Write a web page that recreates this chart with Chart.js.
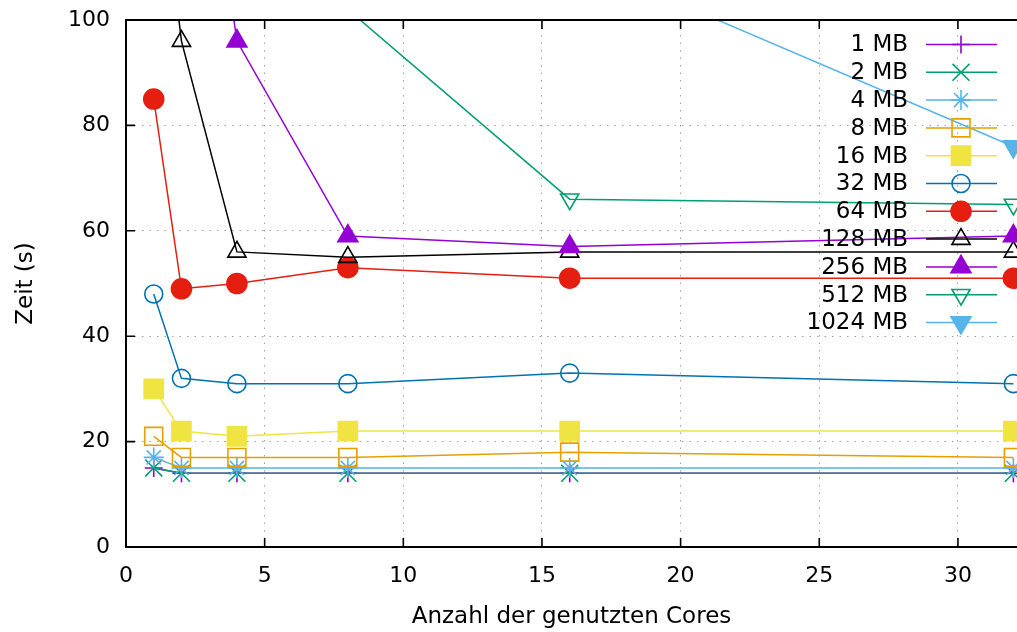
<!DOCTYPE html>
<html>
<head>
<meta charset="utf-8">
<script src="https://cdn.jsdelivr.net/npm/chart.js@4/dist/chart.umd.min.js"></script>
<style>
  body { margin: 0; background: #fff; }
  canvas { display: block; }
</style>
</head>
<body>
<canvas id="chart" width="1017" height="632"></canvas>
<script>
// data (Zeit in s vs. Anzahl Cores)
const cores = [1, 2, 4, 8, 16, 32];
const labels = ["1 MB", "2 MB", "4 MB", "8 MB", "16 MB", "32 MB", "64 MB", "128 MB", "256 MB", "512 MB", "1024 MB"];
const mb1 = [15, 14, 14, 14, 14, 14];
const mb2 = [15, 14, 14, 14, 14, 14];
const mb4 = [17, 15, 15, 15, 15, 15];
const mb8 = [21, 17, 17, 17, 18, 17];
const mb16 = [30, 22, 21, 22, 22, 22];
const mb32 = [48, 32, 31, 31, 33, 31];
const mb64 = [85, 49, 50, 53, 51, 51];
const mb128 = [140, 96, 56, 55, 56, 56];
const mb256 = [null, 170, 96, 59, 57, 59];
const mb512 = [null, null, null, 102, 66, 65];
const mb1024 = [null, null, null, null, 112, 76];
const yTicks = [0, 20, 40, 60, 80, 100];
const xTicks = [0, 5, 10, 15, 20, 25, 30];

const series = [mb1, mb2, mb4, mb8, mb16, mb32, mb64, mb128, mb256, mb512, mb1024];

// gnuplot default colours / point types
const styles = [
  { color: '#9400d3', point: 'cross', r: 9, fill: false },
  { color: '#009e73', point: 'crossRot', r: 12, fill: false },
  { color: '#56b4e9', point: 'star', r: 10, fill: false },
  { color: '#e69f00', point: 'rect', r: 12.7, fill: false },
  { color: '#f0e442', point: 'rect', r: 13.5, fill: true },
  { color: '#0072b2', point: 'circle', r: 9, fill: false },
  { color: '#e51e10', point: 'circle', r: 10, fill: true },
  { color: '#000000', point: 'triangle', r: 10.5, fill: false },
  { color: '#9400d3', point: 'triangle', r: 11.5, fill: true },
  { color: '#009e73', point: 'triangle', r: 10.5, fill: false, rot: 180 },
  { color: '#56b4e9', point: 'triangle', r: 11.5, fill: true, rot: 180 }
];

const FONT = 'DejaVu Sans';

function makeDatasets() {
  return series.map((vals, i) => {
    const s = styles[i];
    return {
      label: labels[i],
      data: cores.map((c, j) => ({ x: c, y: vals[j] })),
      borderColor: s.color,
      borderWidth: 1.5,
      pointStyle: s.point,
      pointRadius: s.r,
      pointRotation: s.rot || 0,
      pointBorderColor: s.color,
      pointBorderWidth: 1.6,
      pointBackgroundColor: s.fill ? s.color : 'rgba(0,0,0,0)',
      spanGaps: false,
      tension: 0,
      order: -i
    };
  });
}

// inward tick marks + top border, like gnuplot
const frame = {
  id: 'frame',
  afterDatasetsDraw(chart) {
    const ctx = chart.ctx;
    const a = chart.chartArea;
    const xs = chart.scales.x, ys = chart.scales.y;
    ctx.save();
    ctx.strokeStyle = '#000';
    ctx.lineWidth = 1.6;
    ctx.beginPath();
    xTicks.forEach(v => {
      const px = xs.getPixelForValue(v);
      ctx.moveTo(px, a.bottom); ctx.lineTo(px, a.bottom - 9);
      ctx.moveTo(px, a.top); ctx.lineTo(px, a.top + 9);
    });
    yTicks.forEach(v => {
      const py = ys.getPixelForValue(v);
      ctx.moveTo(a.left, py); ctx.lineTo(a.left + 9, py);
    });
    ctx.stroke();
    ctx.lineWidth = 2;
    ctx.beginPath();
    ctx.moveTo(a.left, a.top); ctx.lineTo(a.right, a.top);
    ctx.stroke();
    ctx.restore();
  }
};

// key in the top right corner: text, then line sample with the marker
const key = {
  id: 'key',
  afterDraw(chart) {
    const ctx = chart.ctx;
    ctx.save();
    ctx.font = '23px "' + FONT + '"';
    ctx.textAlign = 'right';
    ctx.textBaseline = 'middle';
    chart.data.datasets.forEach((ds, i) => {
      const y = 44.5 + i * 27.8;
      ctx.fillStyle = '#000';
      ctx.fillText(ds.label, 908, y + 1);
      ctx.strokeStyle = ds.borderColor;
      ctx.lineWidth = 1.5;
      ctx.beginPath();
      ctx.moveTo(926, y); ctx.lineTo(997, y);
      ctx.stroke();
      ctx.lineWidth = ds.pointBorderWidth;
      ctx.strokeStyle = ds.pointBorderColor;
      ctx.fillStyle = ds.pointBackgroundColor;
      Chart.helpers.drawPoint(ctx, {
        pointStyle: ds.pointStyle,
        radius: ds.pointRadius,
        rotation: ds.pointRotation,
        borderWidth: ds.pointBorderWidth
      }, 961, y);
    });
    ctx.restore();
  }
};

new Chart(document.getElementById('chart'), {
  type: 'line',
  data: { datasets: makeDatasets() },
  options: {
    responsive: false,
    animation: false,
    layout: { autoPadding: false, padding: { top: 20, right: 0, left: 0, bottom: 0 } },
    plugins: { legend: { display: false }, tooltip: { enabled: false } },
    scales: {
      x: {
        type: 'linear',
        min: 0,
        max: 32.13,
        afterBuildTicks: (scale) => { scale.ticks = xTicks.map(v => ({ value: v })); },
        afterFit: (scale) => {
          scale.height = 85;
          scale.paddingLeft = 0; scale.paddingRight = 0;
        },
        grid: { color: '#a0a0a0', lineWidth: 1, drawTicks: false },
        border: { display: true, color: '#000', width: 2, dash: [1.5, 6] },
        ticks: { color: '#000', padding: 16, font: { family: FONT, size: 22 } },
        title: {
          display: true,
          text: 'Anzahl der genutzten Cores',
          color: '#000',
          font: { family: FONT, size: 23 },
          padding: { top: 0, bottom: 1 }
        }
      },
      y: {
        min: 0,
        max: 100,
        afterBuildTicks: (scale) => { scale.ticks = yTicks.map(v => ({ value: v })); },
        afterFit: (scale) => {
          scale.width = 126;
          scale.paddingTop = 0; scale.paddingBottom = 0;
        },
        grid: { color: '#a0a0a0', lineWidth: 1, drawTicks: false },
        border: { display: true, color: '#000', width: 2, dash: [1.5, 6] },
        ticks: { color: '#000', padding: 16, font: { family: FONT, size: 22 } },
        title: {
          display: true,
          text: 'Zeit (s)',
          color: '#000',
          font: { family: FONT, size: 23 },
          padding: { top: 12, bottom: 0 }
        }
      }
    }
  },
  plugins: [frame, key]
});
</script>
</body>
</html>
